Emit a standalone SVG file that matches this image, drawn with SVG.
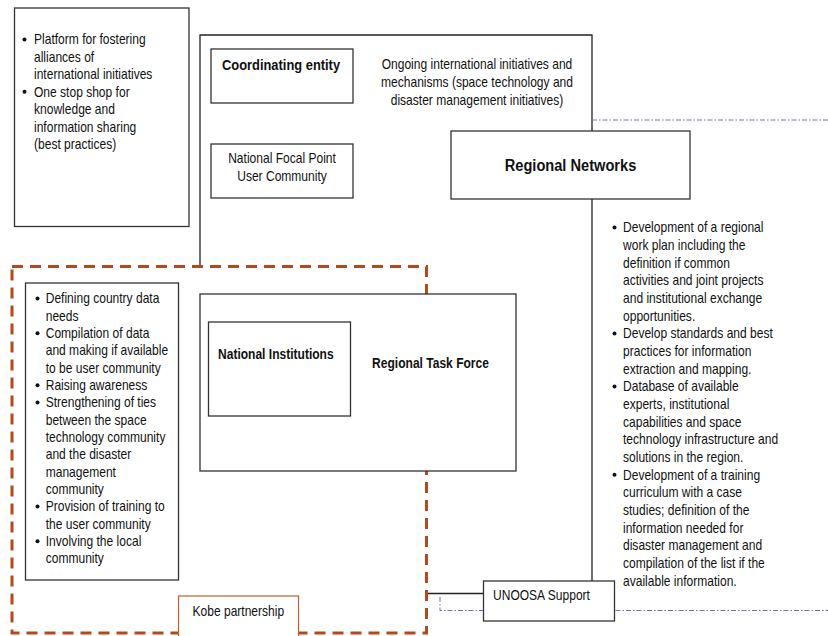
<svg xmlns="http://www.w3.org/2000/svg" width="828" height="636" viewBox="0 0 828 636">
<style>
.box{fill:#fff;stroke:#333;stroke-width:1.3}
.ln{fill:none;stroke:#222;stroke-width:1.3}
.dash{fill:none;stroke:#b5481c;stroke-width:3;stroke-dasharray:11 7}
.blue{fill:none;stroke:#6f6fc0;stroke-width:1;stroke-dasharray:5 2 1.5 2}
.kobe{fill:#fff;stroke:#c0602a;stroke-width:1.2}
.t{font-family:"Liberation Sans",Arial,sans-serif;font-size:14px;fill:#111}
.b{font-weight:bold}
.m{text-anchor:middle}
.dot{fill:#111}
</style>
<rect width="828" height="636" fill="#fff"/>
<g id="connectors">
<polyline class="ln" points="200,266 200,35 592,35 592,581"/>
<line class="ln" x1="427" y1="593.5" x2="483" y2="593.5"/>
<line class="blue" x1="592" y1="120" x2="828" y2="120"/>
<polyline class="blue" points="440,597 440,610.5 828,610.5"/>
</g>
<g id="partnership-frame">
<rect class="dash" x="12" y="266.5" width="414.5" height="366.5"/>
</g>
<g id="platform-box">
<rect class="box" x="14.5" y="8" width="174.5" height="218.5"/>
<circle class="dot" cx="24.5" cy="39.5" r="2"/>
<circle class="dot" cx="24.5" cy="91.8" r="2"/>
<text class="t" transform="translate(34,44.3) scale(0.86,1)"><tspan x="0" y="0">Platform for fostering</tspan><tspan x="0" y="17.45">alliances of</tspan><tspan x="0" y="34.9">international initiatives</tspan><tspan x="0" y="52.35">One stop shop for</tspan><tspan x="0" y="69.8">knowledge and</tspan><tspan x="0" y="87.25">information sharing</tspan><tspan x="0" y="104.7">(best practices)</tspan></text>
</g>
<g id="coordinating-entity">
<rect class="box" x="211" y="49" width="142" height="54"/>
<text class="t b" style="font-size:15px" transform="translate(222,69.5) scale(0.86,1)">Coordinating entity</text>
</g>
<g id="ongoing-initiatives">
<text class="t m" transform="translate(477,68.5) scale(0.86,1)"><tspan x="0" y="0">Ongoing international initiatives and</tspan><tspan x="0" y="18.2">mechanisms (space technology and</tspan><tspan x="0" y="36.4">disaster management initiatives)</tspan></text>
</g>
<g id="national-focal-point">
<rect class="box" x="211" y="144" width="142" height="54"/>
<text class="t m" transform="translate(282,163.3) scale(0.86,1)"><tspan x="0" y="0">National Focal Point</tspan><tspan x="0" y="17.7">User Community</tspan></text>
</g>
<g id="regional-networks">
<rect class="box" x="451" y="131" width="239" height="68"/>
<text class="t b m" style="font-size:17px" transform="translate(570.5,171) scale(0.86,1)">Regional Networks</text>
</g>
<g id="regional-networks-tasks">
<circle class="dot" cx="614.5" cy="227.5" r="2"/>
<circle class="dot" cx="614.5" cy="333.5" r="2"/>
<circle class="dot" cx="614.5" cy="386.5" r="2"/>
<circle class="dot" cx="614.5" cy="474.8" r="2"/>
<text class="t" transform="translate(623,232.3) scale(0.86,1)"><tspan x="0" y="0">Development of a regional</tspan><tspan x="0" y="17.67">work plan including the</tspan><tspan x="0" y="35.34">definition if common</tspan><tspan x="0" y="53.01">activities and joint projects</tspan><tspan x="0" y="70.68">and institutional exchange</tspan><tspan x="0" y="88.35">opportunities.</tspan><tspan x="0" y="106.02">Develop standards and best</tspan><tspan x="0" y="123.69">practices for information</tspan><tspan x="0" y="141.36">extraction and mapping.</tspan><tspan x="0" y="159.03">Database of available</tspan><tspan x="0" y="176.7">experts, institutional</tspan><tspan x="0" y="194.37">capabilities and space</tspan><tspan x="0" y="212.04">technology infrastructure and</tspan><tspan x="0" y="229.71">solutions in the region.</tspan><tspan x="0" y="247.38">Development of a training</tspan><tspan x="0" y="265.05">curriculum with a case</tspan><tspan x="0" y="282.72">studies; definition of the</tspan><tspan x="0" y="300.39">information needed for</tspan><tspan x="0" y="318.06">disaster management and</tspan><tspan x="0" y="335.73">compilation of the list if the</tspan><tspan x="0" y="353.4">available information.</tspan></text>
</g>
<g id="country-tasks">
<rect class="box" x="25.5" y="283" width="153" height="297"/>
<circle class="dot" cx="37.5" cy="298.5" r="2"/>
<circle class="dot" cx="37.5" cy="333.2" r="2"/>
<circle class="dot" cx="37.5" cy="385.2" r="2"/>
<circle class="dot" cx="37.5" cy="402.5" r="2"/>
<circle class="dot" cx="37.5" cy="506.5" r="2"/>
<circle class="dot" cx="37.5" cy="541.2" r="2"/>
<text class="t" transform="translate(45.7,303.3) scale(0.86,1)"><tspan x="0" y="0">Defining country data</tspan><tspan x="0" y="17.33">needs</tspan><tspan x="0" y="34.66">Compilation of data</tspan><tspan x="0" y="51.99">and making if available</tspan><tspan x="0" y="69.32">to be user community</tspan><tspan x="0" y="86.65">Raising awareness</tspan><tspan x="0" y="103.98">Strengthening of ties</tspan><tspan x="0" y="121.31">between the space</tspan><tspan x="0" y="138.64">technology community</tspan><tspan x="0" y="155.97">and the disaster</tspan><tspan x="0" y="173.3">management</tspan><tspan x="0" y="190.63">community</tspan><tspan x="0" y="207.96">Provision of training to</tspan><tspan x="0" y="225.29">the user community</tspan><tspan x="0" y="242.62">Involving the local</tspan><tspan x="0" y="259.95">community</tspan></text>
</g>
<g id="regional-task-force">
<rect class="box" x="200" y="294" width="316" height="177"/>
<text class="t b m" transform="translate(430.5,367.5) scale(0.86,1)">Regional Task Force</text>
</g>
<g id="national-institutions">
<rect class="box" x="208.5" y="322" width="142" height="94"/>
<text class="t b" transform="translate(218,359) scale(0.86,1)">National Institutions</text>
</g>
<g id="kobe-partnership">
<rect class="kobe" x="178.5" y="596" width="120" height="50"/>
<text class="t" transform="translate(192.5,616) scale(0.86,1)">Kobe partnership</text>
</g>
<g id="unoosa-support">
<rect class="box" x="483.5" y="581" width="131" height="40"/>
<text class="t" transform="translate(493,600) scale(0.86,1)">UNOOSA Support</text>
</g>
</svg>
